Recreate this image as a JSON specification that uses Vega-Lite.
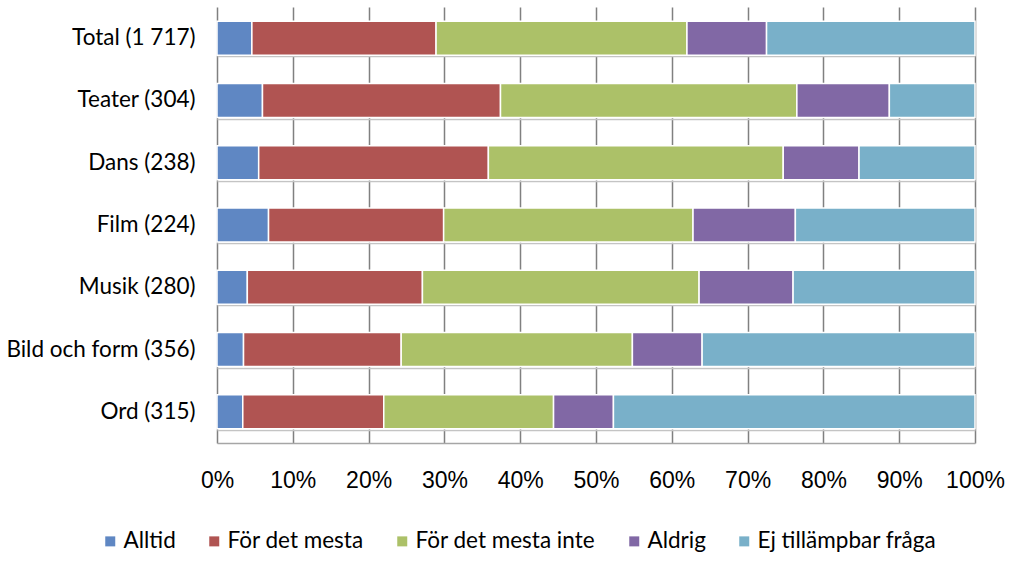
{
  "$schema": "https://vega.github.io/schema/vega-lite/v6.json",
  "width": 758,
  "height": 436,
  "autosize": {"type": "none"},
  "padding": {"left": 217, "top": 7, "right": 48, "bottom": 127},
  "background": "white",
  "data": {
    "values": [
      {"grupp": "Total (1 717)", "svar": "Alltid", "ord": 1, "andel": 4.6},
      {"grupp": "Total (1 717)", "svar": "För det mesta", "ord": 2, "andel": 24.3},
      {"grupp": "Total (1 717)", "svar": "För det mesta inte", "ord": 3, "andel": 33.1},
      {"grupp": "Total (1 717)", "svar": "Aldrig", "ord": 4, "andel": 10.5},
      {"grupp": "Total (1 717)", "svar": "Ej tillämpbar fråga", "ord": 5, "andel": 27.5},
      {"grupp": "Teater (304)", "svar": "Alltid", "ord": 1, "andel": 6.0},
      {"grupp": "Teater (304)", "svar": "För det mesta", "ord": 2, "andel": 31.4},
      {"grupp": "Teater (304)", "svar": "För det mesta inte", "ord": 3, "andel": 39.1},
      {"grupp": "Teater (304)", "svar": "Aldrig", "ord": 4, "andel": 12.2},
      {"grupp": "Teater (304)", "svar": "Ej tillämpbar fråga", "ord": 5, "andel": 11.3},
      {"grupp": "Dans (238)", "svar": "Alltid", "ord": 1, "andel": 5.5},
      {"grupp": "Dans (238)", "svar": "För det mesta", "ord": 2, "andel": 30.3},
      {"grupp": "Dans (238)", "svar": "För det mesta inte", "ord": 3, "andel": 38.9},
      {"grupp": "Dans (238)", "svar": "Aldrig", "ord": 4, "andel": 10.0},
      {"grupp": "Dans (238)", "svar": "Ej tillämpbar fråga", "ord": 5, "andel": 15.3},
      {"grupp": "Film (224)", "svar": "Alltid", "ord": 1, "andel": 6.8},
      {"grupp": "Film (224)", "svar": "För det mesta", "ord": 2, "andel": 23.1},
      {"grupp": "Film (224)", "svar": "För det mesta inte", "ord": 3, "andel": 32.9},
      {"grupp": "Film (224)", "svar": "Aldrig", "ord": 4, "andel": 13.5},
      {"grupp": "Film (224)", "svar": "Ej tillämpbar fråga", "ord": 5, "andel": 23.7},
      {"grupp": "Musik (280)", "svar": "Alltid", "ord": 1, "andel": 4.0},
      {"grupp": "Musik (280)", "svar": "För det mesta", "ord": 2, "andel": 23.1},
      {"grupp": "Musik (280)", "svar": "För det mesta inte", "ord": 3, "andel": 36.5},
      {"grupp": "Musik (280)", "svar": "Aldrig", "ord": 4, "andel": 12.4},
      {"grupp": "Musik (280)", "svar": "Ej tillämpbar fråga", "ord": 5, "andel": 24.0},
      {"grupp": "Bild och form (356)", "svar": "Alltid", "ord": 1, "andel": 3.5},
      {"grupp": "Bild och form (356)", "svar": "För det mesta", "ord": 2, "andel": 20.8},
      {"grupp": "Bild och form (356)", "svar": "För det mesta inte", "ord": 3, "andel": 30.5},
      {"grupp": "Bild och form (356)", "svar": "Aldrig", "ord": 4, "andel": 9.2},
      {"grupp": "Bild och form (356)", "svar": "Ej tillämpbar fråga", "ord": 5, "andel": 36.0},
      {"grupp": "Ord (315)", "svar": "Alltid", "ord": 1, "andel": 3.4},
      {"grupp": "Ord (315)", "svar": "För det mesta", "ord": 2, "andel": 18.6},
      {"grupp": "Ord (315)", "svar": "För det mesta inte", "ord": 3, "andel": 22.4},
      {"grupp": "Ord (315)", "svar": "Aldrig", "ord": 4, "andel": 7.9},
      {"grupp": "Ord (315)", "svar": "Ej tillämpbar fråga", "ord": 5, "andel": 47.7}
    ]
  },
  "mark": {"type": "bar", "stroke": "white", "strokeWidth": 1.5},
  "encoding": {
    "y": {
      "field": "grupp",
      "type": "nominal",
      "sort": ["Total (1 717)", "Teater (304)", "Dans (238)", "Film (224)", "Musik (280)", "Bild och form (356)", "Ord (315)"],
      "scale": {"paddingInner": 0.454, "paddingOuter": 0.227},
      "axis": {
        "title": null,
        "domain": false,
        "ticks": false,
        "grid": true,
        "gridColor": "#c4c4c4",
        "gridWidth": 1.5,
        "bandPosition": 1.05,
        "tickExtra": false,
        "labelFont": "Lato",
        "labelFontSize": 22.5,
        "labelColor": "#000000",
        "labelPadding": 22,
        "labelLimit": 400
      }
    },
    "x": {
      "field": "andel",
      "type": "quantitative",
      "stack": "zero",
      "scale": {"domain": [0, 100], "nice": false},
      "axis": {
        "title": null,
        "values": [0, 10, 20, 30, 40, 50, 60, 70, 80, 90, 100],
        "labelExpr": "datum.value + '%'",
        "grid": true,
        "gridColor": "#808080",
        "gridWidth": 1.5,
        "ticks": false,
        "domain": true,
        "domainColor": "#a6a6a6",
        "domainWidth": 1.5,
        "labelFont": "Liberation Sans",
        "labelFontSize": 23,
        "labelColor": "#000000",
        "labelPadding": 26,
        "labelFlush": false
      }
    },
    "color": {
      "field": "svar",
      "type": "nominal",
      "scale": {
        "domain": ["Alltid", "För det mesta", "För det mesta inte", "Aldrig", "Ej tillämpbar fråga"],
        "range": ["#5f87c3", "#b05452", "#acc168", "#8168a5", "#79b0c9"]
      },
      "legend": {
        "title": null,
        "orient": "none",
        "direction": "horizontal",
        "legendX": -118,
        "legendY": 523,
        "padding": 0,
        "symbolType": "square",
        "symbolSize": 100,
        "symbolStrokeWidth": 0,
        "labelFont": "Lato",
        "labelFontSize": 22.5,
        "labelColor": "#000000",
        "labelOffset": 2,
        "columnPadding": 27,
        "labelLimit": 400
      }
    },
    "order": {"field": "ord", "type": "quantitative"}
  },
  "config": {"view": {"stroke": null}}
}
